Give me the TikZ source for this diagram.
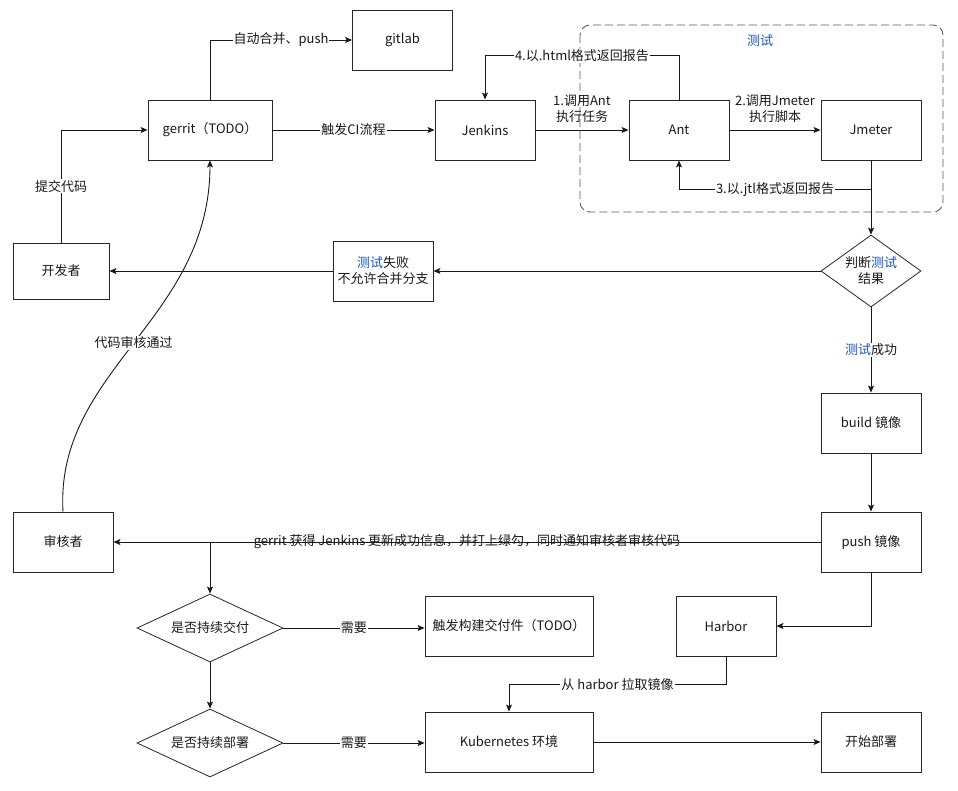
\documentclass[tikz,border=0pt]{standalone}
\usepackage{fontspec}
\setmainfont{Noto Sans CJK SC}
\usetikzlibrary{arrows.meta,shapes.geometric}
\definecolor{tblue}{RGB}{25,85,195}
\definecolor{grpgray}{RGB}{90,90,90}
\newcommand{\cstest}{{\color{tblue}测试}}
\begin{document}
\begin{tikzpicture}[x=1pt,y=-1pt,
  font=\fontsize{13}{16}\selectfont,
  every node/.style={text=black!90},
  box/.style={draw=black!85, line width=0.9pt, minimum width=100pt, minimum height=60pt, inner sep=0pt, align=center},
  dia/.style={draw=black!85, line width=0.8pt, diamond, inner sep=0pt, align=center},
  arr/.style={draw=black!90, line width=0.9pt, -{Stealth[length=7pt,width=6pt,inset=1.5pt]}},
  lbl/.style={fill=white, inner sep=1pt, align=center},
  nlbl/.style={inner sep=1pt, align=center}
]
\useasboundingbox (0,0) rectangle (958,790);

% test group
\draw[grpgray, line width=0.9pt, dash pattern=on 8pt off 4pt, rounded corners=10pt] (580,25) rectangle (943,212);
\node[nlbl] (grplbl) at (760,41) {\cstest};

% nodes
\node[box] (gitlab) at (402.5,40) {gitlab};
\node[box, minimum width=124pt] (gerrit) at (210,130) {gerrit（TODO）};
\node[box] (jenkins) at (485,130) {Jenkins};
\node[box] (ant) at (679,130) {Ant};
\node[box] (jmeter) at (871,130) {Jmeter};
\node[box, minimum width=96pt, minimum height=56pt] (dev) at (61,271) {开发者};
\node[box] (fail) at (383,271) {\cstest 失败\\不允许合并分支};
\node[dia, aspect=1.4, minimum width=100pt, minimum height=72pt] (judge) at (871,271) {判断\cstest\\结果};
\node[box] (build) at (871,423) {build 镜像};
\node[box] (push) at (871,542) {push 镜像};
\node[box] (rev) at (63,542) {审核者};
\node[dia, aspect=2.2, minimum width=146pt, minimum height=68pt] (cd) at (210,628) {是否持续交付};
\node[box, minimum width=168pt] (artifact) at (509,626) {触发构建交付件（TODO）};
\node[box] (harbor) at (726,626) {Harbor};
\node[dia, aspect=2.2, minimum width=146pt, minimum height=68pt] (deploy) at (210,743) {是否持续部署};
\node[box, minimum width=168pt] (k8s) at (509,742) {Kubernetes 环境};
\node[box] (start) at (871,742) {开始部署};

% connectors
\draw[arr] (dev.north) |- node[pos=0.25, lbl] {提交代码} (gerrit.west);
\draw[arr] (gerrit.north) |- node[pos=0.75, lbl] {自动合并、push} (gitlab.west);
\draw[arr] (gerrit.east) -- node[lbl] {触发CI流程} (jenkins.west);
\draw[arr] (jenkins.east) -- node[nlbl, above=6pt] {1.调用Ant\\执行任务} (ant.west);
\draw[arr] (ant.east) -- node[nlbl, above=6pt] {2.调用Jmeter\\执行脚本} (jmeter.west);
\draw[arr] (jmeter.south) -- ++(0,29) -| node[pos=0.25, lbl] {3.以.jtl格式返回报告} (ant.south);
\draw[arr] (ant.north) -- ++(0,-44) -| node[pos=0.25, lbl] {4.以.html格式返回报告} (jenkins.north);
\draw[arr] (jmeter.south) -- (judge.north);
\draw[arr] (judge.west) -- (fail.east);
\draw[arr] (fail.west) -- (dev.east);
\draw[arr] (judge.south) -- node[lbl] {\cstest 成功} (build.north);
\draw[arr] (build.south) -- (push.north);
\draw[arr] (push.west) -- node[lbl, pos=0.5] {gerrit 获得 Jenkins 更新成功信息，并打上绿勾，同时通知审核者审核代码} (rev.east);
\draw[arr] (push.west) -| (cd.north);
\draw[arr] (rev.north) .. controls (55,370) and (210,320) .. node[pos=0.5, lbl] {代码审核通过} (gerrit.south);
\draw[arr] (push.south) |- (harbor.east);
\draw[arr] (harbor.south) -- ++(0,28) -| node[pos=0.25, lbl] {从 harbor 拉取镜像} (k8s.north);
\draw[arr] (cd.east) -- node[lbl] {需要} (cd.east -| artifact.west);
\draw[arr] (cd.south) -- (deploy.north);
\draw[arr] (deploy.east) -- node[lbl] {需要} (deploy.east -| k8s.west);
\draw[arr] (k8s.east) -- (start.west);
\end{tikzpicture}
\end{document}
